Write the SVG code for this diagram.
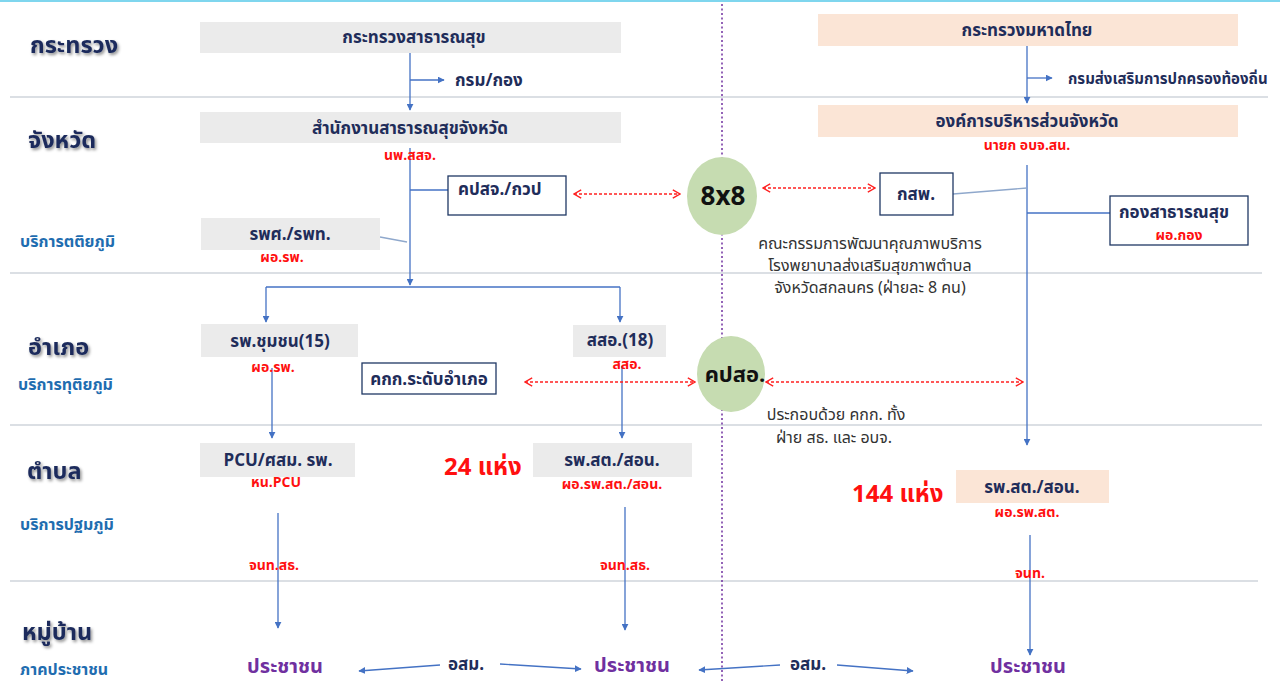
<svg xmlns="http://www.w3.org/2000/svg" width="1280" height="681" viewBox="0 0 1280 681">
<defs>
<style>
text{font-family:"Noto Sans Thai","Noto Sans","DejaVu Sans",sans-serif;}
.lvl{font-size:23.5px;font-weight:700;fill:#1b2b5b;filter:url(#sh);}
.svc{font-size:16px;font-weight:700;fill:#1f6db0;}
.bx{font-size:17px;font-weight:700;fill:#1f2d5a;text-anchor:middle;}
.rd{font-size:14px;font-weight:700;fill:#ff1010;text-anchor:middle;}
.note{font-size:16px;fill:#333;text-anchor:middle;}
.big{font-size:24px;font-weight:700;fill:#ff1010;}
.ppl{font-size:20px;font-weight:700;fill:#7030a0;text-anchor:middle;}
.gray{fill:#ebebeb;}
.peach{fill:#fbe5d6;}
.wb{fill:#fff;stroke:#1f3864;stroke-width:1.3;}
.sep{stroke:#cfd4db;stroke-width:1.5;}
.bl{stroke:#4472c4;stroke-width:1.3;fill:none;}
.bla{stroke:#4472c4;stroke-width:1.3;fill:none;marker-end:url(#ab);}
.thin{stroke:#8fa8cc;stroke-width:1.3;fill:none;}
.rdash{stroke:#ff2020;stroke-width:1.3;stroke-dasharray:3,2;fill:none;marker-start:url(#ar);marker-end:url(#ar);}
.ell{fill:#c6dcb1;}
</style>
<filter id="sh" x="-20%" y="-30%" width="150%" height="180%">
<feDropShadow dx="1.5" dy="2" stdDeviation="1.5" flood-color="#000" flood-opacity="0.45"/>
</filter>
<marker id="ab" viewBox="0 0 10 10" refX="9" refY="5" markerWidth="7" markerHeight="7" markerUnits="userSpaceOnUse" orient="auto">
<path d="M0,0 L10,5 L0,10 z" fill="#4472c4"/>
</marker>
<marker id="ar" viewBox="0 0 10 10" refX="9" refY="5" markerWidth="9" markerHeight="11" markerUnits="userSpaceOnUse" orient="auto-start-reverse">
<path d="M1,0.5 L9,5 L1,9.5" fill="none" stroke="#ff2020" stroke-width="1.5"/>
</marker>
</defs>
<rect width="1280" height="681" fill="#fff"/>
<line x1="0" y1="1" x2="1280" y2="1" stroke="#7fd6ee" stroke-width="2"/>
<g id="separators">
<line class="sep" x1="10" y1="97" x2="1268" y2="97"/>
<line class="sep" x1="10" y1="273" x2="1262" y2="273"/>
<line class="sep" x1="10" y1="425" x2="1262" y2="425"/>
<line class="sep" x1="10" y1="581" x2="1258" y2="581"/>
</g>
<line id="divider" x1="722" y1="4" x2="722" y2="681" stroke="#7030a0" stroke-width="1.5" stroke-dasharray="2,2.5"/>
<g id="levels">
<text class="lvl" x="30" y="53">กระทรวง</text>
<text class="lvl" x="28" y="148">จังหวัด</text>
<text class="svc" x="20" y="247">บริการตติยภูมิ</text>
<text class="lvl" x="28" y="355">อำเภอ</text>
<text class="svc" x="18" y="390">บริการทุติยภูมิ</text>
<text class="lvl" x="27" y="479">ตำบล</text>
<text class="svc" x="20" y="530">บริการปฐมภูมิ</text>
<text class="lvl" x="22" y="640">หมู่บ้าน</text>
<text class="svc" x="20" y="675">ภาคประชาชน</text>
</g>
<g id="connectors">
<path class="bla" d="M410,53 V110"/>
<path class="bla" d="M410,80 H444"/>
<path class="bla" d="M1027,46 V103"/>
<path class="bla" d="M1027,78 H1052"/>
<path class="bla" d="M410,148 V285"/>
<path class="bl" d="M410,190 H448"/>
<path class="thin" d="M380,237 L407,242"/>
<path class="bl" d="M266,287 H620"/>
<path class="bla" d="M266,287 V322"/>
<path class="bla" d="M620,287 V322"/>
<path class="bla" d="M272,368 V438"/>
<path class="bla" d="M622,366 V438"/>
<path class="bla" d="M278,513 V628"/>
<path class="bla" d="M625,507 V630"/>
<path class="bla" d="M1027,165 V445"/>
<path class="thin" d="M953,194 L1027,188"/>
<path class="bl" d="M1027,213 H1110"/>
<path class="bla" d="M1030,535 V655"/>
<path class="bla" d="M440,665 L359,671"/>
<path class="bla" d="M500,664 L581,669"/>
<path class="bla" d="M780,665 L699,670"/>
<path class="bla" d="M837,665 L913,671"/>
<path class="rdash" d="M574,194 H680"/>
<path class="rdash" d="M763,188 H875"/>
<path class="rdash" d="M525,382 H695"/>
<path class="rdash" d="M766,382 H1023"/>
</g>
<g id="moph">
<rect class="gray" x="200" y="22" width="421" height="31"/>
<text class="bx" x="414" y="43">กระทรวงสาธารณสุข</text>
</g>
<g id="dept"><text class="bx" x="455" y="86" style="text-anchor:start">กรม/กอง</text></g>
<g id="moi">
<rect class="peach" x="818" y="14" width="420" height="32"/>
<text class="bx" x="1027" y="36">กระทรวงมหาดไทย</text>
</g>
<g id="dla"><text class="bx" x="1068" y="84" style="text-anchor:start;font-size:15px">กรมส่งเสริมการปกครองท้องถิ่น</text></g>
<g id="pho">
<rect class="gray" x="200" y="112" width="421" height="31"/>
<text class="bx" x="410" y="134">สำนักงานสาธารณสุขจังหวัด</text>
<text class="rd" x="410" y="160">นพ.สสจ.</text>
</g>
<g id="pao">
<rect class="peach" x="818" y="105" width="420" height="32"/>
<text class="bx" x="1027" y="127">องค์การบริหารส่วนจังหวัด</text>
<text class="rd" x="1027" y="150">นายก อบจ.สน.</text>
</g>
<g id="kpsj">
<rect class="wb" x="448" y="176" width="118" height="39"/>
<text class="bx" x="458" y="195" style="text-anchor:start">คปสจ./กวป</text>
</g>
<g id="c8x8">
<ellipse class="ell" cx="722" cy="196" rx="35" ry="39"/>
<text x="723" y="205" style="font-size:26px;font-weight:700;fill:#111;text-anchor:middle">8x8</text>
</g>
<g id="note8x8">
<text class="note" x="870" y="249">คณะกรรมการพัฒนาคุณภาพบริการ</text>
<text class="note" x="870" y="271">โรงพยาบาลส่งเสริมสุขภาพตำบล</text>
<text class="note" x="870" y="293">จังหวัดสกลนคร (ฝ่ายละ 8 คน)</text>
</g>
<g id="ksp">
<rect class="wb" x="880" y="173" width="73" height="42"/>
<text class="bx" x="916" y="200">กสพ.</text>
</g>
<g id="healthdiv">
<rect class="wb" x="1110" y="196" width="138" height="49"/>
<text class="bx" x="1174" y="218">กองสาธารณสุข</text>
<text class="rd" x="1179" y="240">ผอ.กอง</text>
</g>
<g id="regional">
<rect class="gray" x="201" y="218" width="179" height="32"/>
<text class="bx" x="290" y="240">รพศ./รพท.</text>
<text class="rd" x="282" y="262">ผอ.รพ.</text>
</g>
<g id="community">
<rect class="gray" x="201" y="324" width="157" height="33"/>
<text class="bx" x="280" y="347">รพ.ชุมชน(15)</text>
<text class="rd" x="273" y="372">ผอ.รพ.</text>
</g>
<g id="sso">
<rect class="gray" x="573" y="325" width="93" height="32"/>
<text class="bx" x="620" y="346">สสอ.(18)</text>
<text class="rd" x="627" y="369">สสอ.</text>
</g>
<g id="kkk">
<rect class="wb" x="362" y="363" width="134" height="31"/>
<text class="bx" x="429" y="385">คกก.ระดับอำเภอ</text>
</g>
<g id="kpso">
<ellipse class="ell" cx="731" cy="374" rx="34" ry="38"/>
<text x="735" y="382" style="font-size:22px;font-weight:700;fill:#111;text-anchor:middle">คปสอ.</text>
</g>
<g id="notekpso">
<text class="note" x="836" y="420">ประกอบด้วย คกก. ทั้ง</text>
<text class="note" x="834" y="443">ฝ่าย สธ. และ อบจ.</text>
</g>
<g id="pcu">
<rect class="gray" x="200" y="443" width="155" height="34"/>
<text class="bx" x="278" y="466">PCU/ศสม. รพ.</text>
<text class="rd" x="276" y="487">หน.PCU</text>
<text class="rd" x="274" y="570">จนท.สธ.</text>
</g>
<g id="count24"><text class="big" x="444" y="475">24 แห่ง</text></g>
<g id="rpst1">
<rect class="gray" x="533" y="443" width="159" height="34"/>
<text class="bx" x="612" y="466">รพ.สต./สอน.</text>
<text class="rd" x="612" y="489">ผอ.รพ.สต./สอน.</text>
<text class="rd" x="625" y="570">จนท.สธ.</text>
</g>
<g id="count144"><text class="big" x="852" y="502">144 แห่ง</text></g>
<g id="rpst2">
<rect class="peach" x="956" y="470" width="153" height="33"/>
<text class="bx" x="1032" y="493">รพ.สต./สอน.</text>
<text class="rd" x="1027" y="517">ผอ.รพ.สต.</text>
<text class="rd" x="1030" y="578">จนท.</text>
</g>
<g id="people1"><text class="ppl" x="285" y="673">ประชาชน</text></g>
<g id="osm1"><text class="bx" x="466" y="670">อสม.</text></g>
<g id="people2"><text class="ppl" x="632" y="672">ประชาชน</text></g>
<g id="osm2"><text class="bx" x="808" y="670">อสม.</text></g>
<g id="people3"><text class="ppl" x="1028" y="673">ประชาชน</text></g>
</svg>
